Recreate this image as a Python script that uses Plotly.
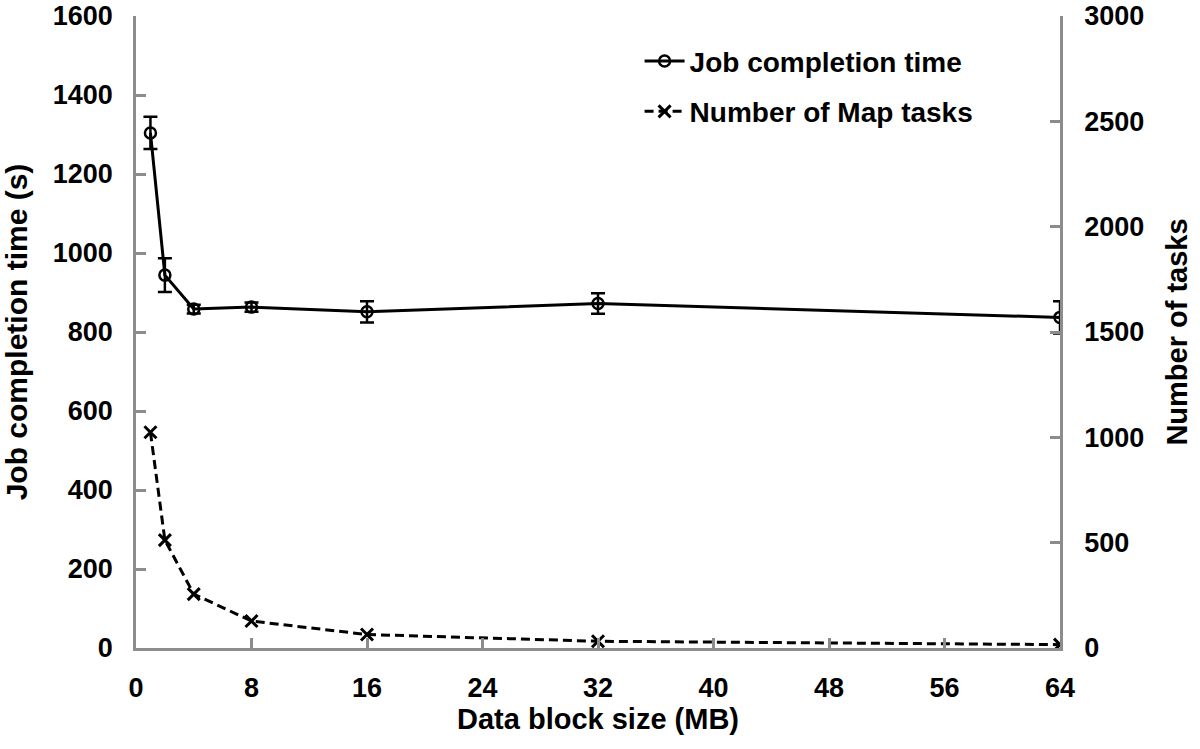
import plotly.graph_objects as go

block_size = [1, 2, 4, 8, 16, 32, 64]
job_time = [1304, 944, 858, 863, 851, 872, 837]
job_err = [41, 43, 11, 12, 27, 26, 41]
map_tasks = [1024, 512, 256, 128, 64, 32, 16]

x_ticks = [0, 8, 16, 24, 32, 40, 48, 56, 64]
y_ticks = [0, 200, 400, 600, 800, 1000, 1200, 1400, 1600]
y2_ticks = [0, 500, 1000, 1500, 2000, 2500, 3000]

FONT = "Liberation Sans, Arial, Helvetica, sans-serif"
AX = "#8c8c8c"

fig = go.Figure()
fig.add_trace(go.Scatter(
    x=block_size, y=job_time, name="Job completion time", legendgroup="a",
    mode="lines+markers",
    line=dict(color="black", width=3),
    marker=dict(symbol="circle-open", size=11, color="black", line=dict(width=2.5)),
    error_y=dict(type="data", array=job_err, visible=True, color="black",
                 thickness=2.5, width=7),
))
fig.add_trace(go.Scatter(
    x=block_size, y=map_tasks, name="Number of Map tasks", legendgroup="b",
    yaxis="y2", mode="lines+markers",
    line=dict(color="black", width=3, dash="9px,5px"),
    marker=dict(symbol="x-thin", size=12, color="black", line=dict(width=3, color="black")),
))

axis_common = dict(
    showline=True, linecolor=AX, linewidth=2.5, mirror=False,
    ticks="inside", ticklen=10, tickwidth=2.5, tickcolor=AX,
    showgrid=False, zeroline=False, automargin=False,
    ticklabeloverflow="allow",
    tickfont=dict(family=FONT, size=27, color="black", weight="bold"),
)

fig.update_layout(
    width=1200, height=749,
    paper_bgcolor="white", plot_bgcolor="white",
    margin=dict(l=136, r=140, t=16, b=101, autoexpand=False),
    showlegend=True,
    legend=dict(
        x=0.545, y=0.968, xanchor="left", yanchor="top",
        bgcolor="rgba(0,0,0,0)", tracegroupgap=11,
        font=dict(family=FONT, size=28, color="black", weight="bold"),
        itemwidth=40,
    ),
    xaxis=dict(
        range=[0, 64], tickvals=x_ticks, ticktext=[str(v) for v in x_ticks],
        ticklabelstandoff=14,
        title=dict(text="Data block size (MB)", standoff=5,
                   font=dict(family=FONT, size=29, color="black", weight="bold")),
        **axis_common,
    ),
    yaxis=dict(
        range=[0, 1600], tickvals=y_ticks, ticktext=[str(v) for v in y_ticks],
        ticklabelstandoff=15,
        title=dict(text="Job completion time (s)", standoff=17,
                   font=dict(family=FONT, size=30, color="black", weight="bold")),
        **axis_common,
    ),
    yaxis2=dict(
        range=[0, 3000], tickvals=y2_ticks, ticktext=[str(v) for v in y2_ticks],
        overlaying="y", side="right", anchor="x",
        ticklabelstandoff=16,
        title=dict(text="Number of tasks", standoff=24,
                   font=dict(family=FONT, size=29, color="black", weight="bold")),
        **axis_common,
    ),
)

fig.write_html(
    "out.html",
    config={"displayModeBar": False},
    post_script="document.body.style.margin='0'; document.body.style.padding='0';",
)
